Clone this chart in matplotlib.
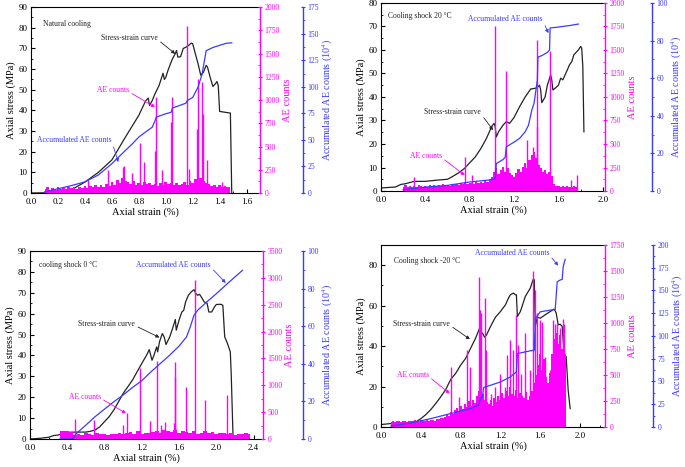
import numpy as np
import matplotlib
matplotlib.use("Agg")
import matplotlib.pyplot as plt
from matplotlib.ticker import MultipleLocator

plt.rcParams['font.family'] = ['Liberation Serif', 'DejaVu Serif']
plt.rcParams['mathtext.fontset'] = 'stix'

PINK = '#ff00ff'
BLUE = '#3a3aff'
BLACK = '#222222'

# ---------------- Natural cooling ----------------
nc_ss_x = [0, 0.1, 0.2, 0.3, 0.4, 0.5, 0.6, 0.7, 0.8, 0.85, 0.87, 0.88, 0.9, 0.92, 0.95, 0.98, 0.99, 1.0,
           1.02, 1.05, 1.07, 1.08, 1.09, 1.11, 1.13, 1.15, 1.17, 1.19, 1.2, 1.22, 1.24, 1.26, 1.28, 1.3,
           1.31, 1.33, 1.35, 1.37, 1.38, 1.39, 1.40, 1.48, 1.49]
nc_ss_y = [0, 0.1, 0.3, 1.6, 5.3, 10, 16, 27, 37.6, 44.5, 46, 42.4, 44.8, 48, 52, 58, 55, 56,
           60, 65, 67.4, 69, 65.8, 66, 70, 70.6, 71.5, 72.6, 72.3, 67.4, 62.6, 57, 58.5, 61.8,
           61, 56, 51.6, 53, 54, 52, 39.5, 38.7, 0]
nc_acc_x = [0.1, 0.2, 0.3, 0.4, 0.5, 0.6, 0.7, 0.75, 0.8, 0.85, 0.9, 0.92, 0.93, 1.0, 1.04, 1.05, 1.15,
            1.16, 1.2, 1.24, 1.27, 1.3, 1.35, 1.4, 1.45, 1.49]
nc_acc_y = [1, 4, 7, 10.5, 17, 27.6, 40, 46, 52.7, 57.4, 62, 68, 71.5, 74.6, 76, 80, 84.6,
            87, 90, 99.7, 112, 134, 137, 139, 141, 141.4]
nc_bg_start = 0.10
nc_bg = [40, 70, 35, 50, 30, 60, 45, 55, 40, 65, 50,
         60, 45, 70, 55, 80, 50, 75, 60, 90, 65,
         85, 70, 100, 80, 120, 90, 140, 110, 160, 130,
         120, 100, 130, 90, 110, 85, 120, 95, 110, 90,
         100, 80, 110, 90, 120, 95, 105, 85, 110, 90,
         100, 120, 90, 130, 110, 150, 120, 160, 130, 110,
         100, 80, 90, 70, 85, 65, 75, 60, 70]
nc_sp_x = [0.42, 0.57, 0.68, 0.69, 0.75, 0.81, 0.84, 0.92, 0.925, 0.97, 1.04, 1.05, 1.16, 1.17, 1.23,
           1.24, 1.27, 1.28, 1.31, 1.42]
nc_sp_y = [136, 244, 280, 287, 210, 538, 333, 452, 1032, 244, 763, 1032, 1792, 262, 692,
           1229, 1194, 853, 358, 118]

# ---------------- Cooling shock 20 C ----------------
c20_ss_x = [0.0, 0.1, 0.13, 0.18, 0.22, 0.3, 0.4, 0.5, 0.6, 0.65, 0.7, 0.75, 0.8, 0.85, 0.9, 0.95, 1.0,
            1.02, 1.03, 1.04, 1.06, 1.1, 1.13, 1.16, 1.2, 1.25, 1.3, 1.35, 1.39, 1.41, 1.43, 1.44, 1.45,
            1.48, 1.5, 1.53, 1.54, 1.55, 1.57, 1.6, 1.62, 1.64, 1.66, 1.68, 1.7, 1.72, 1.74, 1.78, 1.8,
            1.81, 1.82, 1.83]
c20_ss_y = [1.3, 1.6, 1.7, 2.8, 3.1, 4.1, 4.1, 4.6, 5.0, 6.3, 7.7, 9.5, 12, 14.5, 18, 22.3, 27.6,
            28.8, 27.3, 23, 25.2, 28, 29.5, 28.8, 31.3, 35.9, 40, 43.4, 43.7, 44.1, 45, 43, 37.6,
            40, 45, 49.4, 47.3, 43, 43.7, 45, 48, 47.3, 49.4, 51.5, 53.7, 55, 58, 60, 61.5,
            60.8, 53, 25.2]
c20_acc_x = [0.2, 0.4, 0.6, 0.8, 1.0, 1.03, 1.04, 1.1, 1.12, 1.13, 1.18, 1.2, 1.25, 1.3, 1.33, 1.36, 1.38,
             1.41, 1.415, 1.45, 1.5, 1.52, 1.525, 1.6, 1.7, 1.78]
c20_acc_y = [0.7, 2.1, 3, 4.8, 6, 6.6, 14.6, 16.7, 18, 23.5, 25.3, 26, 28, 31.5, 35, 43, 46.6,
             59, 71.2, 72, 73.7, 75, 86.7, 87.2, 88, 88.8]
c20_bg_start = 0.20
c20_bg = [40, 60, 45, 50, 40, 55, 45, 60, 50, 45,
          55, 45, 60, 50, 65, 50, 60, 55, 70, 60,
          65, 55, 70, 60, 75, 65, 80, 70, 85, 75,
          80, 90, 75, 95, 85, 100, 90, 110, 100, 130,
          150, 200, 240, 180, 220, 260, 200, 240, 190, 170,
          150, 190, 230, 200, 260, 300, 250, 330, 380, 420,
          350, 280, 240, 200, 220, 180, 200, 160, 70, 50,
          50, 45, 55, 40, 50, 45, 40, 50, 45, 55]
c20_sp_x = [0.3, 0.76, 0.82, 1.03, 1.13, 1.32, 1.37, 1.405, 1.41, 1.52, 1.71, 1.77]
c20_sp_y = [150, 363, 167, 1750, 1281, 540, 470, 683, 1608, 1484, 114, 167]

# ---------------- Cooling shock 0 C ----------------
c0_ss_x = [0.0, 0.1, 0.2, 0.25, 0.3, 0.35, 0.4, 0.5, 0.6, 0.65, 0.7, 0.75, 0.8, 0.85, 0.9, 0.95, 1.0,
           1.05, 1.1, 1.15, 1.2, 1.25, 1.28, 1.3, 1.31, 1.33, 1.35, 1.36, 1.37, 1.39, 1.42, 1.44, 1.46,
           1.5, 1.53, 1.56, 1.57, 1.6, 1.63, 1.65, 1.67, 1.7, 1.73, 1.76, 1.78, 1.8, 1.82, 1.85, 1.87,
           1.9, 1.92, 1.95, 1.98, 2.0, 2.05, 2.07, 2.09, 2.12, 2.15, 2.16, 2.18]
c0_ss_y = [0, 0.3, 0.8, 1.6, 1.9, 2.5, 3.2, 3.3, 3.3, 3.7, 4.3, 5.9, 8.3, 10.7, 13.9, 17.8, 21.8,
           25, 28.2, 32.2, 36.2, 40, 42.8, 39.3, 37.7, 40, 42.8, 44.1, 41.7, 46.5, 50.5, 48.9, 45.2,
           48.9, 52.9, 57.2, 52.1, 56.9, 60.8, 61.6, 65.6, 68.8, 70.4, 71.5, 69.6, 68.8, 69.3, 67.2, 65.6,
           65.1, 60.8, 60.8, 63.2, 64.4, 64.5, 64, 48.9, 45.7, 41.7, 31, 0]
c0_acc_x = [0.32, 0.45, 0.5, 0.6, 0.7, 0.8, 0.9, 1.0, 1.1, 1.2, 1.3, 1.4, 1.5, 1.6, 1.68, 1.72, 1.76,
            1.8, 1.9, 2.0, 2.1, 2.2, 2.28]
c0_acc_y = [0, 0, 3, 7.4, 11.9, 15.9, 19.8, 23.4, 27.4, 31, 35.8, 40.2, 44.6, 49.4, 54.3, 59.6, 65.8,
            68.5, 73, 77.3, 81.8, 86.2, 89.7]
c0_bg_start = 0.32
c0_bg = [140, 140, 140, 135,
         80, 100, 70, 110, 90, 75, 105, 85, 95, 80,
         100, 90, 120, 85, 110, 130, 100, 140, 95, 120,
         110, 130, 150, 120, 160, 140, 130, 170, 120, 150,
         130, 110, 140, 100, 120, 150, 110, 130, 100, 120,
         110, 90, 120, 80, 100, 90, 110, 85]
c0_sp_x = [0.48, 0.69, 1.0, 1.04, 1.18, 1.29, 1.36, 1.41, 1.45, 1.55, 1.555, 1.56, 1.67, 1.77, 1.88, 2.11]
c0_sp_y = [365, 353, 260, 490, 1313, 341, 1456, 260, 316, 304, 1159, 1425, 973, 2955, 725, 818]

# ---------------- Cooling shock -20 C ----------------
cm20_ss_x = [0.0, 0.1, 0.2, 0.3, 0.35, 0.4, 0.45, 0.5, 0.55, 0.6, 0.65, 0.7, 0.75, 0.8, 0.85, 0.9, 0.95,
             0.99, 1.0, 1.02, 1.04, 1.06, 1.1, 1.15, 1.2, 1.25, 1.28, 1.3, 1.33, 1.35, 1.36, 1.37, 1.4,
             1.45, 1.5, 1.53, 1.54, 1.55, 1.57, 1.6, 1.65, 1.7, 1.74, 1.76, 1.78, 1.8, 1.82, 1.84, 1.86,
             1.88, 1.9]
cm20_ss_y = [1.2, 1.7, 2, 2, 2.5, 4.1, 6.1, 8.6, 11.6, 14.9, 18.5, 23.5, 26.5, 30.6, 33.9, 38.9, 43.9,
             48.8, 46.4, 46.4, 44.4, 45.5, 49.7, 54.3, 57.1, 60.4, 63.7, 65.4, 66.2, 65.4, 65.4, 54.6, 57.1,
             64.6, 68.7, 73.2, 72.8, 49.7, 54.3, 53.8, 55.5, 57.1, 58.3, 56.3, 50.5, 50.8, 49.7, 35.6, 34.8,
             18.2, 9.1]
cm20_acc_x = [0.1, 0.3, 0.5, 0.7, 0.9, 0.98, 1.0, 1.02, 1.03, 1.2, 1.3, 1.36, 1.37, 1.5, 1.54, 1.55, 1.6,
              1.7, 1.75, 1.77, 1.8, 1.82, 1.83, 1.85]
cm20_acc_y = [1.1, 4.4, 9.2, 14.7, 20.2, 23.9, 31.2, 33, 43.3, 49.5, 55, 60.6, 80.7, 83.7, 84.4, 119.3, 126.6,
              128.4, 129.2, 159.6, 161.5, 162.2, 176.1, 184.2]
cm20_bg_start = 0.10
cm20_bg = [50, 55, 50, 60, 55, 50, 60, 55, 50, 55,
           60, 55, 65, 60, 50, 65, 55, 60, 70, 60,
           65, 70, 60, 80, 75, 90, 85, 100, 120, 110,
           140, 120, 160, 180, 150, 200, 170, 220, 190, 250,
           200, 260, 230, 300, 350, 280, 320, 260, 240, 220,
           260, 200, 280, 240, 300, 260, 330, 280, 350, 300,
           380, 320, 300, 360, 280, 330, 300, 280, 340, 260,
           300, 350, 420, 500, 600, 700, 550, 650, 480, 420,
           520, 700, 850, 900, 800, 880, 750, 820, 700]
cm20_sp_x = [0.7, 0.78, 0.86, 0.89, 0.98, 0.99, 1.0, 1.04, 1.05, 1.1, 1.15, 1.2, 1.25, 1.27, 1.3, 1.33,
             1.36, 1.38, 1.41, 1.45, 1.5, 1.53, 1.55, 1.57, 1.6, 1.62, 1.65, 1.7, 1.73, 1.75, 1.77, 1.8,
             1.83, 1.84]
cm20_sp_y = [578, 289, 739, 578, 1445, 1124, 1092, 1236, 739, 321, 385, 514, 385, 690, 835, 739,
             1076, 787, 514, 899, 546, 1503, 1317, 1092, 1028, 1012, 674, 546, 1028, 995, 995, 947,
             1034, 995]


def draw_panel(fig, rect, ss, acc, bg, spikes, xlim, xmaj, ylim, ymaj, aelim, aemaj, acclim, accmaj,
               off, notes):
    ax = fig.add_axes(rect)
    ax.plot(ss[0], ss[1], color=BLACK, lw=0.9)
    ax.set_xlim(*xlim)
    ax.set_ylim(*ylim)
    ax.xaxis.set_major_locator(MultipleLocator(xmaj))
    ax.xaxis.set_minor_locator(MultipleLocator(xmaj / 2))
    ax.yaxis.set_major_locator(MultipleLocator(ymaj))
    ax.yaxis.set_minor_locator(MultipleLocator(ymaj / 2))
    ax.xaxis.set_major_formatter(lambda v, p: '%.1f' % v)
    ax.tick_params(which='both', direction='in', labelsize=6.5, right=False, top=False)
    ax.tick_params(axis='x', pad=3.5)
    ax.tick_params(axis='y', pad=2.5)
    ax.tick_params(which='major', length=3)
    ax.tick_params(which='minor', length=1.5)
    ax.spines['right'].set_visible(False)
    for s in ax.spines.values():
        s.set_linewidth(0.8)
    ax.set_xlabel('Axial strain (%)', fontsize=7.5, labelpad=1)
    ax.set_ylabel('Axial stress (MPa)', fontsize=7.5, labelpad=1.5)

    # AE counts axis
    ae = ax.twinx()
    step = bg[2] if len(bg) == 3 else 0.02
    bx = bg[0] + step * np.arange(len(bg[1]))
    ae.fill_between(bx, 0, bg[1], step='mid', color=PINK, lw=0)
    ae.vlines(spikes[0], 0, spikes[1], color=PINK, lw=1.0)
    ae.set_ylim(*aelim)
    ae.yaxis.set_major_locator(MultipleLocator(aemaj))
    ae.yaxis.set_minor_locator(MultipleLocator(aemaj / 2))
    ae.spines['right'].set_color(PINK)
    ae.spines['right'].set_linewidth(1.0)
    ae.tick_params(axis='y', which='both', colors=PINK, labelsize=5.5, pad=1.5)
    ae.tick_params(axis='y', which='major', direction='inout', length=3.5)
    ae.tick_params(axis='y', which='minor', direction='in', length=1.5)
    ae.set_ylabel('AE counts', color=PINK, fontsize=7.5, labelpad=2)
    for k in ['top', 'left', 'bottom']:
        ae.spines[k].set_visible(False)

    # accumulated AE axis
    ac = ax.twinx()
    ac.plot(acc[0], acc[1], color=BLUE, lw=0.9)
    ac.set_ylim(*acclim)
    ac.spines['right'].set_position(('axes', off))
    ac.spines['right'].set_color(BLUE)
    ac.spines['right'].set_linewidth(1.0)
    ac.yaxis.set_major_locator(MultipleLocator(accmaj))
    ac.yaxis.set_minor_locator(MultipleLocator(accmaj / 2))
    ac.tick_params(axis='y', which='both', colors=BLUE, labelsize=5.5, pad=1.5)
    ac.tick_params(axis='y', which='major', direction='inout', length=3.5)
    ac.tick_params(axis='y', which='minor', direction='out', length=1.5)
    ac.set_ylabel('Accumulated AE counts (10$^4$)', color=BLUE, fontsize=7.2, labelpad=1)
    for k in ['top', 'left', 'bottom']:
        ac.spines[k].set_visible(False)

    for text, col, txy, axy in notes:
        if axy is None:
            ax.text(txy[0], txy[1], text, color=col, fontsize=5.5, va='center', ha='left')
        else:
            ac.annotate(text, xy=axy, xytext=txy, color=col, fontsize=5.5, va='center', ha='left',
                        xycoords=ax.transData, textcoords=ax.transData,
                        arrowprops=dict(arrowstyle='-|>', color=col, lw=0.6, mutation_scale=5,
                                        shrinkA=0, shrinkB=0, relpos=(1.0, 0.3)))
    return ax


fig = plt.figure(figsize=(6.85, 4.67), dpi=100)

draw_panel(fig, [0.0453, 0.5867, 0.3343, 0.398],
           (nc_ss_x, nc_ss_y), (nc_acc_x, nc_acc_y), (nc_bg_start, nc_bg),
           (nc_sp_x, nc_sp_y), (0, 1.7), 0.2, (0, 90), 10, (0, 2000), 250, (0, 175), 25, 1.188,
           [('Natural cooling', BLACK, (0.087, 82), None),
            ('Stress-strain curve', BLACK, (0.52, 75), (1.07, 67.4)),
            ('AE counts', PINK, (0.49, 49.7), (0.92, 41.6)),
            ('Accumulated AE counts', BLUE, (0.047, 25.5), (0.648, 15))])

draw_panel(fig, [0.5562, 0.591, 0.327, 0.4026],
           (c20_ss_x, c20_ss_y), (c20_acc_x, c20_acc_y), (c20_bg_start, c20_bg),
           (c20_sp_x, c20_sp_y), (0, 2.02), 0.4, (0, 80), 10, (0, 2000), 250, (0, 100), 20, 1.21,
           [('Cooling shock 20 \u00b0C', BLACK, (0.066, 74.3), None),
            ('Accumulated AE counts', BLUE, (0.786, 73.2), (1.51, 67.2)),
            ('Stress-strain curve', BLACK, (0.39, 33.5), (1.01, 25.9)),
            ('AE counts', PINK, (0.26, 14.8), (0.755, 6.7))])

draw_panel(fig, [0.0438, 0.06, 0.340, 0.4025],
           (c0_ss_x, c0_ss_y), (c0_acc_x, c0_acc_y), (c0_bg_start, c0_bg, 0.04),
           (c0_sp_x, c0_sp_y), (0, 2.5), 0.4, (0, 90), 10, (0, 3500), 500, (0, 100), 20, 1.172,
           [('cooling shock 0 \u00b0C', BLACK, (0.1, 83.1), None),
            ('Accumulated AE counts', BLUE, (1.14, 83.1), (2.1, 74.7)),
            ('Stress-strain curve', BLACK, (0.52, 55), (1.39, 48.6)),
            ('AE counts', PINK, (0.415, 20.2), (1.03, 12.3))])

draw_panel(fig, [0.5562, 0.0857, 0.327, 0.3897],
           (cm20_ss_x, cm20_ss_y), (cm20_acc_x, cm20_acc_y), (cm20_bg_start, cm20_bg),
           (cm20_sp_x, cm20_sp_y), (0, 2.25), 0.4, (0, 90), 20, (0, 1750), 250, (0, 200), 25, 1.215,
           [('Cooling shock -20 \u00b0C', BLACK, (0.134, 82), None),
            ('Accumulated AE counts', BLUE, (0.94, 86), (1.78, 79.8)),
            ('Stress-strain curve', BLACK, (0.124, 51), (0.893, 43.4)),
            ('AE counts', PINK, (0.157, 25.7), (0.69, 16.6))])

fig.savefig('out.png', dpi=100)
